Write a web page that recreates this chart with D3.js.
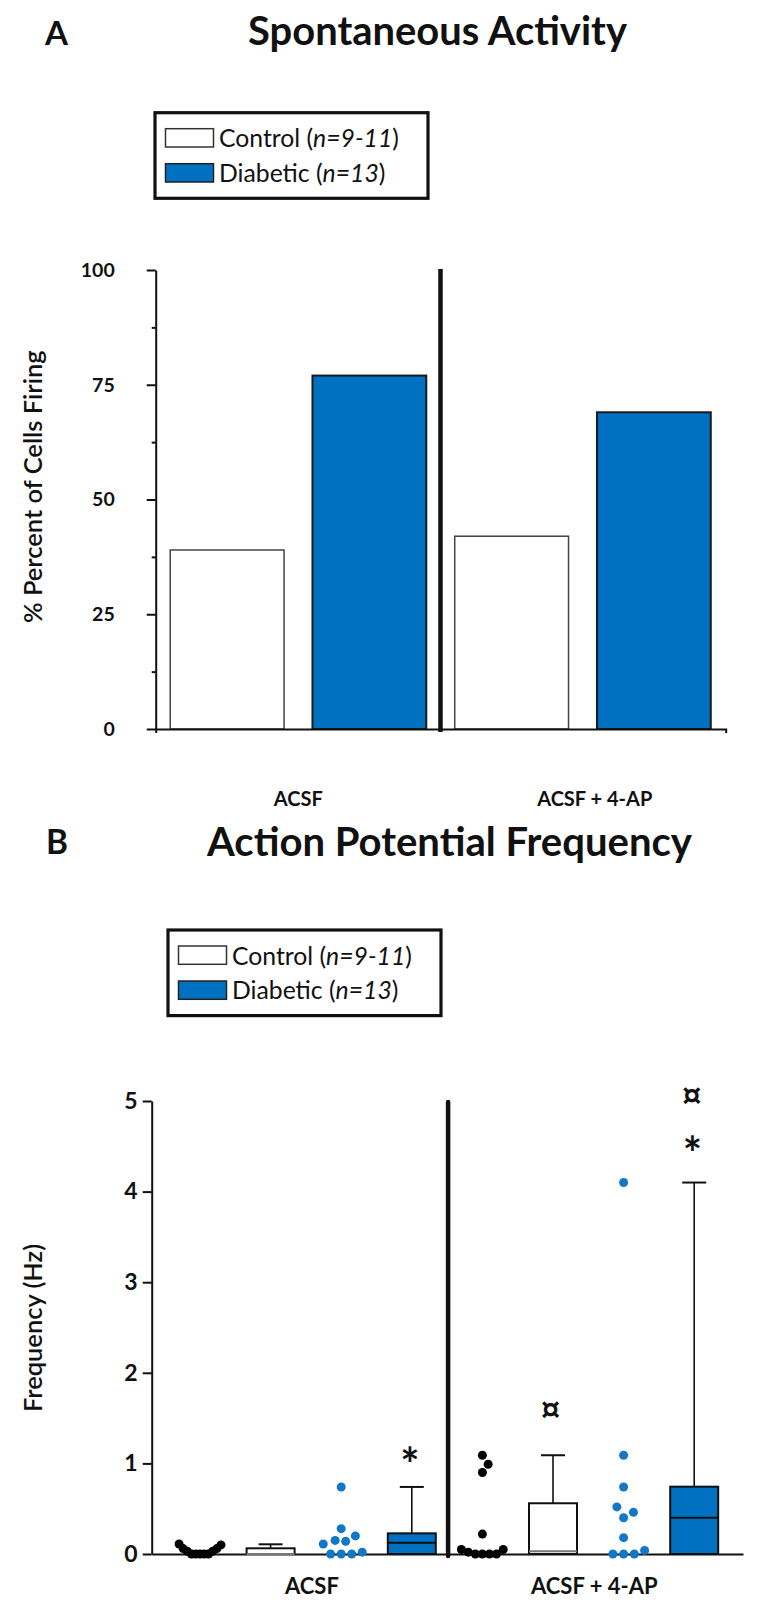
<!DOCTYPE html>
<html><head><meta charset="utf-8">
<script src="https://cdn.jsdelivr.net/npm/d3@7"></script>
<style>
body{margin:0;background:#fff}
svg{display:block}
text{font-family:Lato,"Open Sans",sans-serif;fill:#111}
</style>
</head><body>
<svg id="c" width="765" height="1607"></svg>
<script>
// ---------- data ----------
const conditions = ["ACSF", "ACSF + 4-AP"];
const groups = ["Control", "Diabetic"];
const legendMain = ["Control (", "Diabetic ("];
const legendN = ["n=9-11", "n=13"];
const pctControl = [39, 42];
const pctDiabetic = [77, 69];
const pctTicks = [0, 25, 50, 75, 100];
const pctMinorTicks = [12.5, 37.5, 62.5, 87.5];
const freqTicks = [0, 1, 2, 3, 4, 5];
const dotsControlACSF = [0.11, 0.1, 0.06, 0.06, 0.03, 0.03, 0, 0, 0, 0, 0];
const dotsDiabeticACSF = [0.74, 0.28, 0.2, 0.15, 0.14, 0.11, 0.02, 0, 0, 0];
const dotsControl4AP = [1.09, 0.99, 0.9, 0.22, 0.05, 0.05, 0.02, 0, 0, 0, 0];
const dotsDiabetic4AP = [4.1, 1.09, 0.74, 0.52, 0.46, 0.4, 0.18, 0.04, 0, 0, 0];
const boxMinControl = [0, 0], boxQ1Control = [0, 0], boxMedControl = [0, 0.03], boxQ3Control = [0.063, 0.56], boxMaxControl = [0.107, 1.09];
const boxMinDiabetic = [0, 0], boxQ1Diabetic = [0, 0], boxMedDiabetic = [0.125, 0.4], boxQ3Diabetic = [0.228, 0.743], boxMaxDiabetic = [0.74, 4.1];
const annotCondition = ["ACSF", "ACSF + 4-AP", "ACSF + 4-AP", "ACSF + 4-AP"];
const annotGroup = ["Diabetic", "Control", "Diabetic", "Diabetic"];
const annotSymbol = ["*", "\u00A4", "*", "\u00A4"];
const annotLevel = [1.1, 1.59, 4.54, 5.05];

// ---------- setup ----------
const BLUE = "#0070C0", DOTBLUE = "#1277C6", INK = "#111";
const svg = d3.select("#c");
svg.append("rect").attr("width", 765).attr("height", 1607).attr("fill", "#fff");
const ctx = document.createElement("canvas").getContext("2d");

function fitWidth(t, w) {
  const n = t.node().getComputedTextLength();
  const fs = parseFloat(t.attr("font-size"));
  t.attr("font-size", fs * w / n);
  return t;
}
// place a glyph so that its ink box is centred on (cx, cy) with given ink width
function inkGlyph(ch, cx, cy, inkW, weight) {
  const fs0 = 100;
  ctx.font = `${weight} ${fs0}px Lato`;
  let m = ctx.measureText(ch);
  const w0 = m.actualBoundingBoxLeft + m.actualBoundingBoxRight;
  const fs = fs0 * inkW / w0;
  ctx.font = `${weight} ${fs}px Lato`;
  m = ctx.measureText(ch);
  const x = cx - (m.actualBoundingBoxRight - m.actualBoundingBoxLeft) / 2;
  const y = cy + (m.actualBoundingBoxAscent - m.actualBoundingBoxDescent) / 2;
  svg.append("text").attr("x", x).attr("y", y).attr("font-size", fs).attr("font-weight", weight).text(ch);
}

// titles
function title(letter, lx, ly, lw, txt, cx, base, tw) {
  fitWidth(svg.append("text").attr("x", lx).attr("y", ly).attr("font-size", 37).attr("font-weight", 700).text(letter), lw);
  fitWidth(svg.append("text").attr("x", cx).attr("y", base).attr("text-anchor", "middle")
    .attr("font-size", 37).attr("font-weight", 700).text(txt), tw);
}
title("A", 45, 45, 23, "Spontaneous Activity", 437.5, 45, 379);
title("B", 46, 854, 22, "Action Potential Frequency", 449.5, 856, 485);

// legend
function legend(x0, y0) {
  const g = svg.append("g").attr("transform", `translate(${x0},${y0})`);
  g.append("rect").attr("x", 0).attr("y", 0).attr("width", 273).attr("height", 85.6)
    .attr("fill", "#fff").attr("stroke", INK).attr("stroke-width", 3.2);
  const fills = ["#fff", BLUE];
  let fs = null;
  groups.forEach((grp, i) => {
    g.append("rect").attr("x", 10.5).attr("y", 16 + i * 35).attr("width", 48).attr("height", 18.3)
      .attr("fill", fills[i]).attr("stroke", i ? "#222" : "#333").attr("stroke-width", 1.5);
    const t = g.append("text").attr("x", 64).attr("y", 34.5 + i * 34.5).attr("font-size", fs || 24);
    t.append("tspan").text(legendMain[i]);
    t.append("tspan").attr("font-style", "italic").text(legendN[i]);
    t.append("tspan").text(")");
    if (!fs) { fitWidth(t, 180); fs = parseFloat(t.attr("font-size")); }
  });
}
legend(155, 112.7);
legend(168, 930);

// ---------- Panel A ----------
const yA = d3.scaleLinear().domain([0, 100]).range([729, 270]);
const xA = d3.scaleBand().domain(conditions).range([156, 725]);
const xAin = d3.scaleBand().domain(groups).range([0, xA.bandwidth()]).paddingInner(0.2).paddingOuter(0.1);

const barsA = [];
conditions.forEach((c, i) => {
  barsA.push({ c, g: "Control", v: pctControl[i] });
  barsA.push({ c, g: "Diabetic", v: pctDiabetic[i] });
});
svg.append("g").selectAll("rect").data(barsA).join("rect")
  .attr("x", d => xA(d.c) + xAin(d.g))
  .attr("y", d => yA(d.v))
  .attr("width", xAin.bandwidth())
  .attr("height", d => yA(0) - yA(d.v))
  .attr("fill", d => d.g === "Control" ? "#fff" : BLUE)
  .attr("stroke", d => d.g === "Control" ? "#444" : "#1a1a1a")
  .attr("stroke-width", d => d.g === "Control" ? 1.5 : 2);

function styleAxis(g, sw) {
  g.selectAll("path,line").attr("stroke", INK).attr("stroke-width", sw);
  g.selectAll("text").attr("fill", INK).attr("font-family", "Lato, sans-serif").attr("font-weight", 700);
}
const axA = svg.append("g").attr("transform", "translate(155.7,0)")
  .call(d3.axisLeft(yA).tickValues(pctTicks).tickSize(9).tickSizeOuter(0).tickPadding(32).tickFormat(d3.format("d")));
styleAxis(axA, 2);
axA.selectAll("text").attr("font-size", 19.5);
const axAm = svg.append("g").attr("transform", "translate(155.7,0)")
  .call(d3.axisLeft(yA).tickValues(pctMinorTicks).tickSize(4).tickSizeOuter(0).tickFormat(""));
styleAxis(axAm, 2);
axAm.select("path").remove();
const axAx = svg.append("g").attr("transform", `translate(0,${yA(0)})`)
  .call(d3.axisBottom(d3.scaleLinear().range([155.7, 725.7])).tickValues([]).tickSizeOuter(4));
styleAxis(axAx, 2);

// divider A
svg.append("line").attr("x1", xA(conditions[1])).attr("x2", xA(conditions[1]))
  .attr("y1", yA(100) - 1).attr("y2", yA(0) + 3).attr("stroke", "#111").attr("stroke-width", 4.5);

// x labels A
const xLabelShiftA = [0, 12];
conditions.forEach((c, i) => {
  svg.append("text").attr("x", xA(c) + xA.bandwidth() / 2 + xLabelShiftA[i]).attr("y", 806)
    .attr("text-anchor", "middle").attr("font-size", 20).attr("font-weight", 700).text(c);
});
// y label A
const yLabA = fitWidth(svg.append("text").attr("transform", "translate(42,486.7) rotate(-90)")
  .attr("text-anchor", "middle").attr("font-size", 22).attr("font-weight", 600)
  .text("% Percent of Cells Firing"), 273);

// ---------- Panel B ----------
const yB = d3.scaleLinear().domain([0, 5]).range([1554, 1101]);
const cols = conditions.flatMap(c => groups.flatMap(g => [c + "|" + g + "|dots", c + "|" + g + "|box"]));
const xB = d3.scaleBand().domain(cols).range([164.7, 729.5]);
const cx = (c, g, k) => xB(c + "|" + g + "|" + k) + xB.bandwidth() / 2;

const axB = svg.append("g").attr("transform", "translate(151.7,0)")
  .call(d3.axisLeft(yB).tickValues(freqTicks).tickSize(9).tickSizeOuter(0).tickPadding(5).tickFormat(d3.format("d")));
styleAxis(axB, 2);
axB.selectAll("text").attr("font-size", 23);
const axBx = svg.append("g").attr("transform", `translate(0,${yB(0)})`)
  .call(d3.axisBottom(d3.scaleLinear().range([151.7, 743])).tickValues([]).tickSizeOuter(0));
styleAxis(axBx, 2);

// divider B
const divX = xB(cols[4]) + 1;
svg.append("line").attr("x1", divX).attr("x2", divX)
  .attr("y1", yB(5) + 1).attr("y2", yB(0) + 2).attr("stroke", "#111").attr("stroke-width", 4.5)
  .attr("stroke-linecap", "round");

// beeswarm
function swarm(values, Dx, Dy, W) {
  const ys = values.map(v => yB(v));
  const order = d3.range(values.length).sort((a, b) => ys[b] - ys[a]);
  const placed = [], xs = new Array(values.length);
  const hit = (p, x, y) => ((p.x - x) / Dx) ** 2 + ((p.y - y) / Dy) ** 2 < 1 - 1e-6;
  for (const i of order) {
    const y = ys[i];
    const cands = [0];
    for (const p of placed) {
      const dy = Math.abs(p.y - y);
      if (dy < Dy) { const dx = Dx * Math.sqrt(1 - (dy / Dy) ** 2); cands.push(p.x + dx, p.x - dx); }
    }
    cands.sort((a, b) => Math.abs(a) - Math.abs(b) || b - a);
    const chosen = cands.find(c => placed.every(p => !hit(p, c, y)));
    xs[i] = chosen; placed.push({ x: chosen, y });
  }
  const half = d3.max(xs, Math.abs);
  return half > W ? xs.map(x => x * W / half) : xs;
}

const dotSets = [
  { c: "ACSF", g: "Control", v: dotsControlACSF },
  { c: "ACSF", g: "Diabetic", v: dotsDiabeticACSF },
  { c: "ACSF + 4-AP", g: "Control", v: dotsControl4AP },
  { c: "ACSF + 4-AP", g: "Diabetic", v: dotsDiabetic4AP }
];
dotSets.forEach(s => {
  const off = swarm(s.v, 11, 14, 21);
  const x0 = cx(s.c, s.g, "dots");
  svg.append("g").selectAll("circle").data(s.v).join("circle")
    .attr("cx", (d, i) => x0 + off[i]).attr("cy", d => yB(d)).attr("r", 4.5)
    .attr("fill", s.g === "Control" ? "#000" : DOTBLUE);
});

// boxes
const boxes = [];
conditions.forEach((c, i) => {
  boxes.push({ c, g: "Control", min: boxMinControl[i], q1: boxQ1Control[i], med: boxMedControl[i], q3: boxQ3Control[i], max: boxMaxControl[i] });
  boxes.push({ c, g: "Diabetic", min: boxMinDiabetic[i], q1: boxQ1Diabetic[i], med: boxMedDiabetic[i], q3: boxQ3Diabetic[i], max: boxMaxDiabetic[i] });
});
const BW = 48, CAP = 24;
boxes.forEach(b => {
  const x = cx(b.c, b.g, "box");
  const g = svg.append("g");
  g.append("line").attr("x1", x).attr("x2", x).attr("y1", yB(b.q3)).attr("y2", yB(b.max)).attr("stroke", INK).attr("stroke-width", 1.6);
  g.append("line").attr("x1", x - CAP / 2).attr("x2", x + CAP / 2).attr("y1", yB(b.max)).attr("y2", yB(b.max)).attr("stroke", INK).attr("stroke-width", 2);
  g.append("rect").attr("x", x - BW / 2).attr("width", BW).attr("y", yB(b.q3)).attr("height", yB(b.q1) - yB(b.q3))
    .attr("fill", b.g === "Control" ? "#fff" : BLUE).attr("stroke", INK).attr("stroke-width", 2);
  g.append("line").attr("x1", x - BW / 2).attr("x2", x + BW / 2).attr("y1", yB(b.med)).attr("y2", yB(b.med))
    .attr("stroke", b.med > b.q1 + 0.05 ? INK : "#777").attr("stroke-width", 2);
});

// annotations (ink-centred glyphs)
annotSymbol.forEach((s, i) => {
  inkGlyph(s, cx(annotCondition[i], annotGroup[i], "box") - 2, yB(annotLevel[i]), s === "*" ? 15 : 17.5, 700);
});

// x labels B
conditions.forEach(c => {
  const mid = (cx(c, "Control", "dots") + cx(c, "Diabetic", "box")) / 2 + 6;
  svg.append("text").attr("x", mid).attr("y", 1594).attr("text-anchor", "middle")
    .attr("font-size", 22).attr("font-weight", 700).text(c);
});
// y label B
svg.append("text").attr("transform", "translate(42,1328) rotate(-90)")
  .attr("text-anchor", "middle").attr("font-size", yLabA.attr("font-size")).attr("font-weight", 600)
  .text("Frequency (Hz)");
</script>
</body></html>
